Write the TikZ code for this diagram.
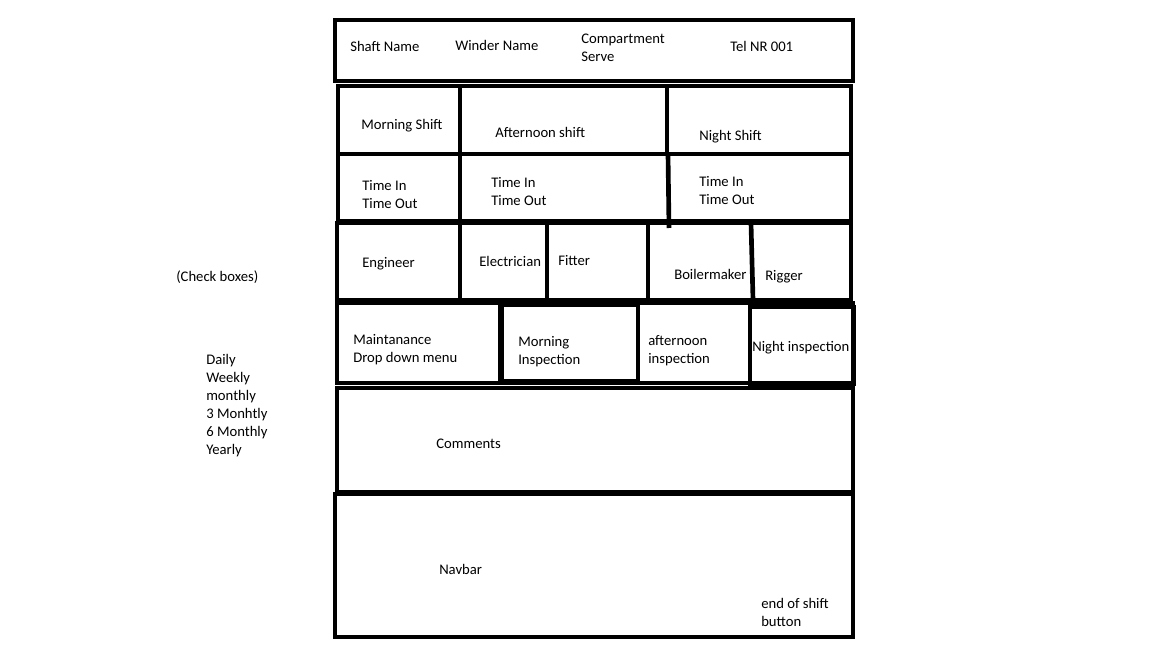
\documentclass[tikz,border=0pt]{standalone}
\usepackage{fontspec}
\setmainfont{Carlito}
\begin{document}
\begin{tikzpicture}[x=0.75pt,y=-0.75pt,
  box/.style={draw=black,line width=3.7pt},
  divider/.style={draw=black,line width=3.5pt},
  lbl/.style={anchor=base west,inner sep=0pt,align=left,font=\fontsize{11}{13.5}\selectfont}]
\useasboundingbox[fill=white] (0,0) rectangle (1152,648);
% header
\draw[box] (335,20) rectangle (853,81);
% shifts row
\draw[box] (338,86) rectangle (851,154);
\draw[divider] (460,86) -- (460,154);
\draw[divider] (667,86) -- (667,154);
% time row
\draw[box] (338,154) rectangle (851,221);
\draw[divider] (460,154) -- (460,221);
\draw[divider] (668,154) -- (669,228);
% trades row
\draw[box] (337,223) rectangle (851,300);
\draw[divider] (460,223) -- (460,300);
\draw[divider] (547,223) -- (547,300);
\draw[divider] (648,223) -- (648,300);
\draw[divider] (751,223) -- (753,300);
% maintenance row
\draw[box] (337,303) rectangle (853,383);
\draw[divider] (500,303) -- (500,383);
\draw[box] (502,305) rectangle (638,381);
\draw[box] (750,307) rectangle (854,384);
% comments
\draw[box] (337,388) rectangle (853,492);
% navbar
\draw[box] (335,494) rectangle (853,637);
% labels
\node[lbl] (shaft) at (350,51.5) {Shaft Name};
\node[lbl] (winder) at (455,50.5) {Winder Name};
\node[lbl] (comp) at (581,61.5) {Compartment\\Serve};
\node[lbl] (tel) at (730,51.5) {Tel NR 001};
\node[lbl] (ms) at (361,129.5) {Morning Shift};
\node[lbl] (as) at (495,137.5) {Afternoon shift};
\node[lbl] (ns) at (699,140.5) {Night Shift};
\node[lbl] (t1) at (362,208.5) {Time In\\Time Out};
\node[lbl] (t2) at (491,205.5) {Time In\\Time Out};
\node[lbl] (t3) at (699,204.5) {Time In\\Time Out};
\node[lbl] (eng) at (362,267.5) {Engineer};
\node[lbl] (ele) at (479,266.5) {Electrician};
\node[lbl] (fit) at (558,265.5) {Fitter};
\node[lbl] (boi) at (674,279.5) {Boilermaker};
\node[lbl] (rig) at (765,280.5) {Rigger};
\node[lbl] (mnt) at (353,362.5) {Maintanance\\Drop down menu};
\node[lbl] (mi) at (518,364.5) {Morning\\Inspection};
\node[lbl] (ai) at (648,363.5) {afternoon\\inspection};
\node[lbl] (ni) at (752,351.5) {Night inspection};
\node[lbl] (com) at (436,448.5) {Comments};
\node[lbl] (nav) at (439,574.5) {Navbar};
\node[lbl] (eos) at (761,626.5) {end of shift\\button};
\node[lbl] (chk) at (176,281.5) {(Check boxes)};
\node[lbl] (freq) at (206,454.5) {Daily\\Weekly\\monthly\\3 Monhtly\\6 Monthly\\Yearly};
\end{tikzpicture}
\end{document}
